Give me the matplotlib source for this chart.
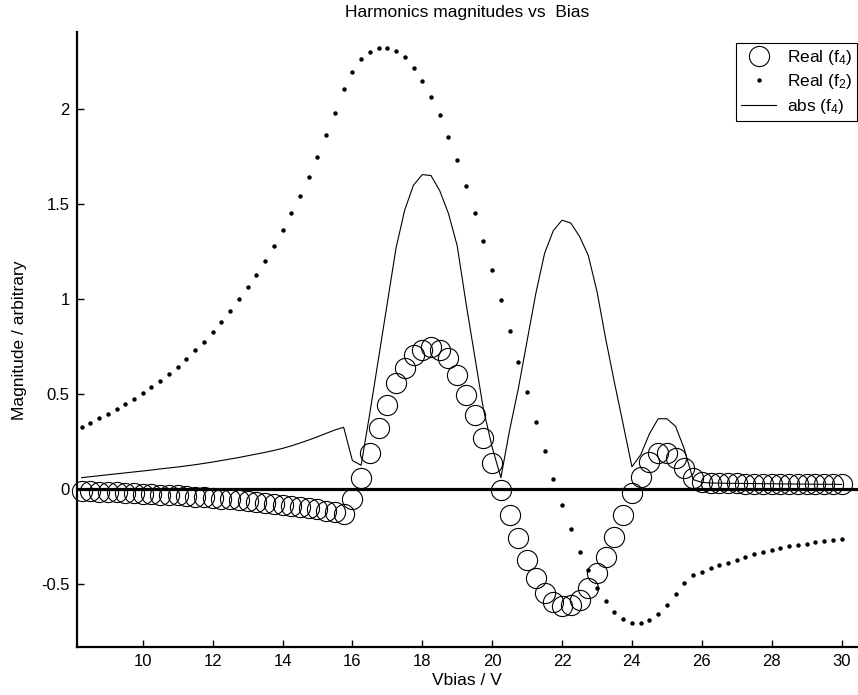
import numpy as np
import matplotlib.pyplot as plt

plt.rcParams['font.family'] = ['Liberation Sans', 'DejaVu Sans']
plt.rcParams['mathtext.fontset'] = 'custom'
plt.rcParams['mathtext.rm'] = 'Liberation Sans'

# bias voltage sweep, 8.25 V to 30 V in 0.25 V steps
vbias = np.arange(8.25, 30.001, 0.25)

# real part of 2nd harmonic
real_f2 = [0.328, 0.349, 0.372, 0.395, 0.419, 0.447, 0.475, 0.504, 0.535, 0.570,
           0.605, 0.644, 0.686, 0.730, 0.775, 0.826, 0.879, 0.937, 0.998, 1.062,
           1.128, 1.202, 1.277, 1.363, 1.451, 1.544, 1.644, 1.749, 1.862, 1.981,
           2.105, 2.196, 2.263, 2.302, 2.323, 2.323, 2.307, 2.272, 2.217, 2.149,
           2.065, 1.967, 1.853, 1.732, 1.596, 1.454, 1.307, 1.151, 0.993, 0.833,
           0.670, 0.509, 0.353, 0.200, 0.053, -0.084, -0.212, -0.332, -0.426, -0.523,
           -0.589, -0.647, -0.684, -0.707, -0.707, -0.689, -0.658, -0.611, -0.551, -0.493,
           -0.454, -0.437, -0.416, -0.400, -0.388, -0.374, -0.358, -0.344, -0.333, -0.321,
           -0.312, -0.302, -0.295, -0.288, -0.281, -0.274, -0.268, -0.262]

# real part of 4th harmonic
real_f4 = [-0.010, -0.012, -0.014, -0.016, -0.018, -0.020, -0.022, -0.024, -0.026, -0.029,
           -0.031, -0.034, -0.037, -0.040, -0.043, -0.046, -0.050, -0.054, -0.058, -0.062,
           -0.067, -0.072, -0.077, -0.082, -0.088, -0.094, -0.100, -0.107, -0.114, -0.122,
           -0.130, -0.050, 0.056, 0.188, 0.319, 0.442, 0.556, 0.635, 0.705, 0.732,
           0.749, 0.732, 0.690, 0.600, 0.495, 0.389, 0.267, 0.135, -0.005, -0.137,
           -0.260, -0.374, -0.470, -0.549, -0.597, -0.614, -0.611, -0.584, -0.523, -0.444,
           -0.356, -0.251, -0.137, -0.023, 0.065, 0.144, 0.188, 0.188, 0.162, 0.109,
           0.056, 0.038, 0.031, 0.031, 0.030, 0.030, 0.029, 0.029, 0.028, 0.028,
           0.027, 0.027, 0.026, 0.026, 0.025, 0.025, 0.025, 0.024]

# magnitude of 4th harmonic
abs_f4 = [0.060, 0.065, 0.070, 0.075, 0.080, 0.085, 0.090, 0.095, 0.100, 0.106,
          0.111, 0.116, 0.122, 0.128, 0.135, 0.142, 0.150, 0.158, 0.166, 0.175,
          0.184, 0.193, 0.203, 0.214, 0.227, 0.242, 0.258, 0.275, 0.293, 0.311,
          0.325, 0.150, 0.125, 0.400, 0.690, 0.980, 1.270, 1.470, 1.600, 1.655,
          1.650, 1.570, 1.450, 1.280, 0.980, 0.700, 0.420, 0.220, 0.060, 0.310,
          0.530, 0.780, 1.030, 1.240, 1.360, 1.415, 1.400, 1.330, 1.230, 1.040,
          0.790, 0.560, 0.340, 0.117, 0.180, 0.290, 0.370, 0.370, 0.330, 0.210,
          0.050, 0.035, 0.032, 0.031, 0.030, 0.030, 0.029, 0.029, 0.028, 0.028,
          0.027, 0.027, 0.026, 0.026, 0.025, 0.025, 0.025, 0.024]

fig = plt.figure(figsize=(8.58, 6.95), dpi=100)
ax = fig.add_axes([76.7 / 858, 1 - 647.3 / 695, (858 - 76.7) / 858, (647.3 - 32.3) / 695])

ax.axhline(0, color='black', lw=2.3, zorder=1)
ax.plot(vbias, real_f4, 'o', mfc='none', mec='black', ms=14.5, mew=0.8,
        label='Real ($\\mathregular{f_4}$)', clip_on=False)
ax.plot(vbias, real_f2, 'o', color='black', ms=3.2, mew=0,
        label='Real ($\\mathregular{f_2}$)')
ax.plot(vbias, abs_f4, '-', color='black', lw=0.8,
        label='abs ($\\mathregular{f_4}$)')

ax.set_xlim(8.11, 30.47)
ax.set_ylim(-0.833, 2.404)
ax.set_xticks(np.arange(10, 31, 2))
ax.set_yticks([-0.5, 0, 0.5, 1, 1.5, 2])
ax.set_yticklabels(['-0.5', '0', '0.5', '1', '1.5', '2'])
ax.tick_params(direction='in', length=5, width=1, labelsize=12, pad=5)

ax.spines['top'].set_visible(False)
ax.spines['right'].set_visible(False)
ax.spines['left'].set_linewidth(1.6)
ax.spines['bottom'].set_linewidth(1.6)

ax.set_title('Harmonics magnitudes vs  Bias', fontsize=12.5, pad=11)
ax.set_xlabel('Vbias / V', fontsize=12.5, labelpad=3)
ax.set_ylabel('Magnitude / arbitrary', fontsize=12.5, labelpad=10)

leg = ax.legend(loc='upper right', bbox_to_anchor=(857 / 858, 1 - 43 / 695),
                bbox_transform=fig.transFigure, fancybox=False, framealpha=1,
                edgecolor='black', fontsize=12.5, handlelength=2, borderaxespad=0,
                labelspacing=0.3, handletextpad=0.6, borderpad=0.3)
leg.get_frame().set_linewidth(0.8)

fig.savefig('out.png', dpi=100)
